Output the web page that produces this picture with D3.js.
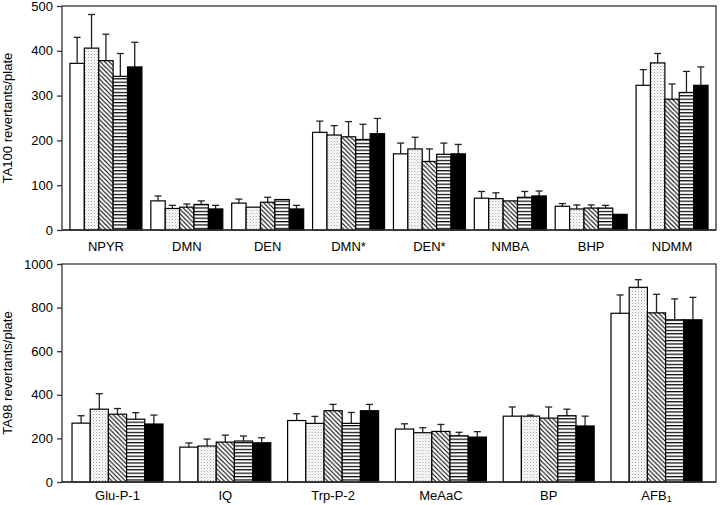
<!DOCTYPE html>
<html><head><meta charset="utf-8">
<script src="https://cdn.jsdelivr.net/npm/d3@7"></script>
<style>body{margin:0;background:#fff}svg{display:block}text{font-family:"Liberation Sans",Arial,sans-serif}</style>
</head><body>
<svg id="c" width="720" height="505"></svg>
<script>
// ---- data ----
const topCategories = ["NPYR","DMN","DEN","DMN*","DEN*","NMBA","BHP","NDMM"];
const topValues = [
  [372,406,378,343,364],
  [65,48,51,57,47],
  [60,51,62,68,47],
  [218,212,208,202,215],
  [170,181,153,169,170],
  [71,70,65,73,76],
  [53,47,49,49,35],
  [323,373,292,307,323]
];
const topErrors = [
  [430,481,437,394,419],
  [76,55,58,65,55],
  [69,51,73,68,55],
  [243,233,242,236,249],
  [194,207,181,194,191],
  [86,83,65,86,87],
  [59,56,56,55,35],
  [358,394,326,354,364]
];
const topTicks = [0,100,200,300,400,500];
const botCategories = ["Glu-P-1","IQ","Trp-P-2","MeAaC","BP","AFB1"];
const botValues = [
  [270,334,311,288,266],
  [160,165,183,188,180],
  [282,269,327,269,327],
  [243,226,232,212,206],
  [302,302,293,304,257],
  [774,893,776,744,744]
];
const botErrors = [
  [304,405,337,318,307],
  [179,197,215,211,203],
  [313,301,356,319,356],
  [267,249,264,228,231],
  [344,307,344,334,302],
  [858,928,861,840,847]
];
const botTicks = [0,200,400,600,800,1000];
const seriesFills = ["#fff","url(#dots)","url(#diag)","url(#hstr)","#000"];

const svg = d3.select("#c");
const defs = svg.append("defs");
// stipple
const pd = defs.append("pattern").attr("id","dots").attr("patternUnits","userSpaceOnUse").attr("width",3).attr("height",3);
pd.append("rect").attr("width",3).attr("height",3).attr("fill","#fff");
pd.append("rect").attr("x",0).attr("y",0).attr("width",1).attr("height",1).attr("fill","#999");
pd.append("rect").attr("x",1.5).attr("y",1.5).attr("width",1).attr("height",1).attr("fill","#bbb");
// diagonal "\"
const pg = defs.append("pattern").attr("id","diag").attr("patternUnits","userSpaceOnUse").attr("width",4.5).attr("height",4.5);
pg.append("rect").attr("width",4.5).attr("height",4.5).attr("fill","#fff");
pg.append("path").attr("d","M-1,-1L5.5,5.5M-1,3.5L1,5.5M3.5,-1L5.5,1").attr("stroke","#000").attr("stroke-width",1.1);
// horizontal stripes
const ph = defs.append("pattern").attr("id","hstr").attr("patternUnits","userSpaceOnUse").attr("width",4).attr("height",3.4);
ph.append("rect").attr("width",4).attr("height",3.4).attr("fill","#fff");
ph.append("rect").attr("x",0).attr("y",0).attr("width",4).attr("height",1.2).attr("fill","#000");

function panel(cfg){
  const {cats, vals, errs, ticks, x0, x1, y0, y1, bandL, bandR, pad, title, labelY} = cfg;
  const y = d3.scaleLinear().domain([0, ticks[ticks.length-1]]).range([y1, y0]);
  const xb = d3.scaleBand().domain(cats).range([bandL, bandR]).paddingInner(pad).paddingOuter(pad/2);
  const xs = d3.scaleBand().domain(d3.range(5)).range([0, xb.bandwidth()]);
  const g = svg.append("g");
  // frame
  g.append("rect").attr("x",x0).attr("y",y0).attr("width",x1-x0).attr("height",y1-y0)
    .attr("fill","none").attr("stroke","#333").attr("stroke-width",1.3);
  // y axis
  const ax = g.append("g").attr("transform",`translate(${x0},0)`)
    .call(d3.axisLeft(y).tickValues(ticks).tickSize(5).tickPadding(4).tickFormat(d3.format("d")));
  ax.select(".domain").remove();
  ax.selectAll("line").attr("stroke","#333").attr("stroke-width",1.3);
  ax.selectAll("text").attr("font-size",13).attr("fill","#000").style("font-family","Liberation Sans, Arial, sans-serif");
  // bars
  cats.forEach((c,i)=>{
    const gg = g.append("g").attr("transform",`translate(${xb(c)},0)`);
    vals[i].forEach((v,j)=>{
      const bx = xs(j), bw = xs.bandwidth(), cx = bx + bw/2;
      const e = errs[i][j];
      if (e > v) {
        gg.append("line").attr("x1",cx).attr("x2",cx).attr("y1",y(v)).attr("y2",y(e)).attr("stroke","#222").attr("stroke-width",1.3);
        gg.append("line").attr("x1",cx-3.5).attr("x2",cx+3.5).attr("y1",y(e)).attr("y2",y(e)).attr("stroke","#222").attr("stroke-width",1.3);
      }
      gg.append("rect").attr("x",bx).attr("y",y(v)).attr("width",bw).attr("height",y(0)-y(v))
        .attr("fill",seriesFills[j]).attr("stroke","#000").attr("stroke-width",1.2);
    });
    const t = g.append("text").attr("x",xb(c)+xb.bandwidth()/2).attr("y",labelY).attr("text-anchor","middle").attr("font-size",13);
    if (c === "AFB1") {
      t.append("tspan").text("AFB");
      t.append("tspan").text("1").attr("font-size",9).attr("dy",2);
    } else t.text(c);
  });
  // bottom line redraw on top
  g.append("line").attr("x1",x0).attr("x2",x1).attr("y1",y1).attr("y2",y1).attr("stroke","#333").attr("stroke-width",1.3);
  g.append("text").attr("transform",`translate(12,${(y0+y1)/2}) rotate(-90)`).attr("text-anchor","middle").attr("font-size",13).text(title);
}

panel({cats:topCategories, vals:topValues, errs:topErrors, ticks:topTicks,
  x0:62, x1:716, y0:6, y1:230, bandL:65.5, bandR:712.5, pad:0.11,
  title:"TA100 revertants/plate", labelY:251});
panel({cats:botCategories, vals:botValues, errs:botErrors, ticks:botTicks,
  x0:62, x1:716, y0:264, y1:482, bandL:63.6, bandR:710.4, pad:0.156,
  title:"TA98 revertants/plate", labelY:500});
</script>
</body></html>
